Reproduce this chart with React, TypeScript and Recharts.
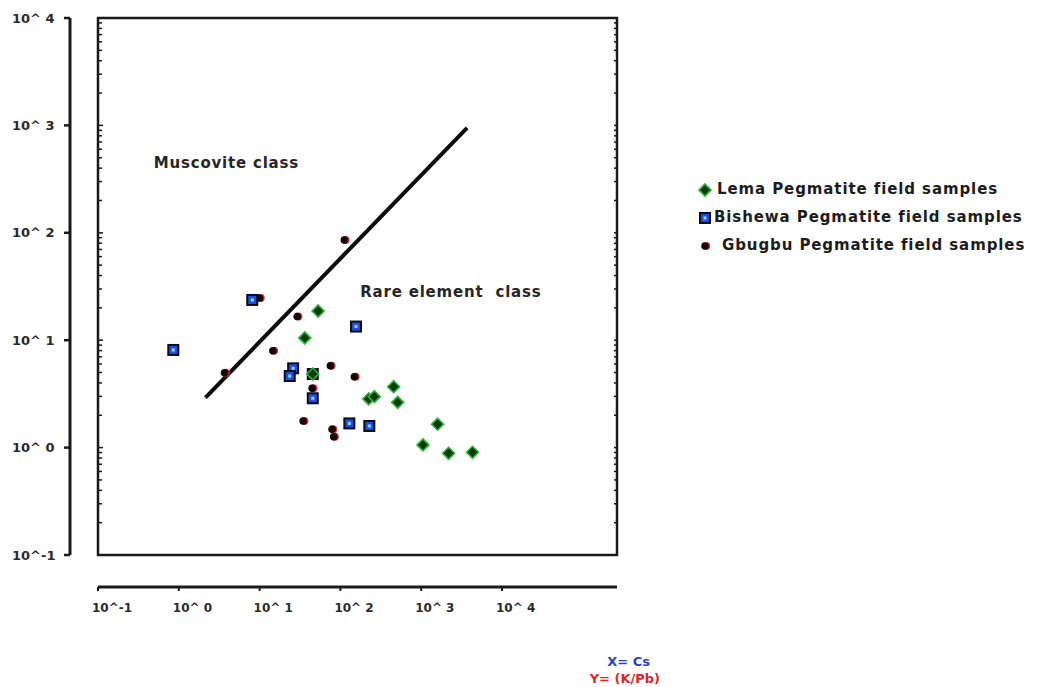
import React from 'react';
import {
  ScatterChart,
  Scatter,
  XAxis,
  YAxis,
  ReferenceArea,
  ReferenceLine,
  ReferenceDot,
  Legend,
} from 'recharts';

// ---------------- data ----------------
const lemaX = [53.0, 36.2, 45.5, 224, 263, 456, 511, 1596, 1052, 2183, 4315];
const lemaY = [18.7, 10.5, 4.84, 2.84, 2.98, 3.69, 2.64, 1.65, 1.06, 0.885, 0.904];

const bishewaX = [8.11, 156, 0.855, 26.0, 23.6, 45.5, 45.5, 129, 228];
const bishewaY = [23.7, 13.4, 8.11, 5.47, 4.64, 4.84, 2.88, 1.68, 1.59];

const gbugbuX = [9.98, 29.2, 14.6, 3.68, 75.2, 149, 44.7, 34.6, 78.9, 82.6, 112];
const gbugbuY = [24.7, 16.6, 7.98, 4.98, 5.79, 4.57, 3.56, 1.77, 1.48, 1.26, 85.7];

// boundary between Muscovite class and Rare element class
const boundaryX = [2.14, 3700];
const boundaryY = [2.92, 950];

const decadeTicks = [0.1, 1, 10, 100, 1000, 10000];
const minorMultipliers = [2, 3, 4, 5, 6, 7, 8, 9];

const seriesNames = [
  'Lema Pegmatite field samples',
  'Bishewa Pegmatite field samples',
  'Gbugbu Pegmatite field samples',
];

const regionLabels = ['Muscovite class', 'Rare element  class'];
const regionLabelX = [0.49, 176];
const regionLabelY = [446, 28.1];

const axisNames = ['X= Cs', 'Y= (K/Pb)'];

// ---------------- layout ----------------
const W = 1042;
const H = 687;
const PAD_W = 28;
const Y_AXIS_W = 70;
const PAD_H = 32;
const X_AXIS_H = 40;
const MARGIN = { top: 18, right: 425, bottom: 60, left: 0 };
const PLOT_W = W - MARGIN.left - MARGIN.right - PAD_W - Y_AXIS_W;

const X_DOMAIN: [number, number] = [0.1, 265000];
const Y_DOMAIN: [number, number] = [0.1, 10000];

const FONT = '"DejaVu Sans", Verdana, sans-serif';

const toPoints = (xs: number[], ys: number[]) => xs.map((x, i) => ({ x, y: ys[i] }));
const lemaData = toPoints(lemaX, lemaY);
const bishewaData = toPoints(bishewaX, bishewaY);
const gbugbuData = toPoints(gbugbuX, gbugbuY);

const yTicks: number[] = [];
decadeTicks.forEach((d, i) => {
  yTicks.push(d);
  if (i < decadeTicks.length - 1) minorMultipliers.forEach((m) => yTicks.push(d * m));
});

const isDecade = (v: number) => decadeTicks.some((d) => Math.abs(d - v) < 1e-9);
const fmt = (v: number) => {
  const e = Math.round(Math.log10(v));
  return e < 0 ? `10^${e}` : `10^ ${e}`;
};

// ---------------- shapes ----------------
const LemaShape = (p: any) => {
  const { cx, cy } = p;
  if (cx == null || cy == null) return null;
  const s = 6;
  return (
    <polygon
      points={`${cx},${cy - s} ${cx + s},${cy} ${cx},${cy + s} ${cx - s},${cy}`}
      fill="#0e3a10"
      stroke="#2bb533"
      strokeWidth={1.6}
    />
  );
};

const BishewaShape = (p: any) => {
  const { cx, cy } = p;
  if (cx == null || cy == null) return null;
  return (
    <g>
      <rect x={cx - 5} y={cy - 5} width={10} height={10} fill="#1f4fe0" stroke="#0b0b18" strokeWidth={2} />
      <rect x={cx - 1.5} y={cy - 1.5} width={3} height={3} fill="#86dcff" />
    </g>
  );
};

const GbugbuShape = (p: any) => {
  const { cx, cy } = p;
  if (cx == null || cy == null) return null;
  return (
    <g>
      <circle cx={cx + 1.2} cy={cy} r={4} fill="#d83030" />
      <circle cx={cx} cy={cy} r={3.8} fill="#140404" />
    </g>
  );
};

// ---------------- ticks ----------------
const YTick = (p: any) => {
  const { x, y, payload } = p;
  const v = payload.value;
  const dec = isDecade(v);
  const boxLeft = x + PAD_W;
  const boxRight = boxLeft + PLOT_W;
  return (
    <g>
      {dec && <line x1={x - 6} x2={x} y1={y} y2={y} stroke="#1a1a1a" strokeWidth={2.5} />}
      {dec && (
        <text x={x - 58} y={y} dy="0.35em" textAnchor="start" fontFamily={FONT} fontWeight="bold" fontSize={13} fill="#2a2a2a">
          {fmt(v)}
        </text>
      )}
      <line x1={boxLeft} x2={boxLeft + (dec ? 5 : 4)} y1={y} y2={y} stroke="#1a1a1a" strokeWidth={1.5} />
      <line x1={boxRight - 3} x2={boxRight} y1={y} y2={y} stroke="#1a1a1a" strokeWidth={1.5} />
    </g>
  );
};

const XTick = (p: any) => {
  const { x, y, payload } = p;
  return (
    <text x={x - 6} y={y + 21} textAnchor="start" fontFamily={FONT} fontWeight="bold" fontSize={12} fill="#2a2a2a">
      {fmt(payload.value)}
    </text>
  );
};

const AxisNames = () => (
  <g fontFamily={FONT} fontWeight="bold" fontSize={13}>
    <text x={650} y={666} textAnchor="end" fill="#2a3fd0">
      {axisNames[0]}
    </text>
    <text x={660} y={683} textAnchor="end" fill="#e02424">
      {axisNames[1]}
    </text>
  </g>
);

const RegionText = (text: string) => (p: any) => {
  const vb = p.viewBox || {};
  return (
    <text
      x={vb.x}
      y={vb.y}
      dy="0.35em"
      textAnchor="start"
      fontFamily={FONT}
      fontWeight="bold"
      fontSize={15}
      letterSpacing={0.8}
      fill="#262626"
      style={{ whiteSpace: 'pre' }}
      xmlSpace="preserve"
    >
      {text}
    </text>
  );
};

const legendMarkers = [
  (cx: number, cy: number) => <LemaShape cx={cx} cy={cy} />,
  (cx: number, cy: number) => <BishewaShape cx={cx} cy={cy} />,
  (cx: number, cy: number) => <GbugbuShape cx={cx} cy={cy} />,
];
const legendTextIndent = [27, 24, 32];

const LegendBox = () => (
  <div style={{ position: 'relative', width: 350, height: 90, fontFamily: FONT }}>
    {seriesNames.map((name, i) => (
      <div key={name} style={{ position: 'absolute', left: 0, top: i * 28, height: 28, width: 350 }}>
        <svg width={22} height={28} style={{ position: 'absolute', left: 4, top: 0 }}>
          {legendMarkers[i](11, 14)}
        </svg>
        <span
          style={{
            position: 'absolute',
            left: legendTextIndent[i],
            top: 4,
            fontWeight: 'bold',
            fontSize: 15,
            letterSpacing: 0.9,
            color: '#1c1c1c',
            whiteSpace: 'nowrap',
          }}
        >
          {name}
        </span>
      </div>
    ))}
  </div>
);

export default function App() {
  return (
    <div style={{ position: 'absolute', left: 0, top: 0, width: W, height: H, background: '#fff' }}>
      <ScatterChart width={W} height={H} margin={MARGIN}>
        <XAxis
          xAxisId="main"
          type="number"
          dataKey="x"
          scale="log"
          domain={X_DOMAIN}
          allowDataOverflow
          ticks={decadeTicks}
          interval={0}
          height={X_AXIS_H}
          tickSize={4}
          tickMargin={0}
          tick={<XTick />}
          axisLine={{ stroke: '#1a1a1a', strokeWidth: 3 }}
          tickLine={{ stroke: '#1a1a1a', strokeWidth: 2 }}
        />
        <XAxis xAxisId="apad" type="number" dataKey="x" height={PAD_H} tick={false} axisLine={false} tickLine={false} domain={X_DOMAIN} scale="log" allowDataOverflow />
        <YAxis
          yAxisId="main"
          type="number"
          dataKey="y"
          scale="log"
          domain={Y_DOMAIN}
          allowDataOverflow
          ticks={yTicks}
          interval={0}
          width={Y_AXIS_W}
          tickSize={0}
          tickMargin={0}
          tickLine={false}
          tick={<YTick />}
          axisLine={{ stroke: '#1a1a1a', strokeWidth: 3 }}
        />
        <YAxis yAxisId="apad" type="number" dataKey="y" width={PAD_W} tick={false} axisLine={false} tickLine={false} domain={Y_DOMAIN} scale="log" allowDataOverflow />
        <ReferenceArea
          xAxisId="main"
          yAxisId="main"
          x1={X_DOMAIN[0]}
          x2={X_DOMAIN[1]}
          y1={Y_DOMAIN[0]}
          y2={Y_DOMAIN[1]}
          fill="none"
          fillOpacity={0}
          stroke="#1a1a1a"
          strokeWidth={2.5}
        />
        <ReferenceLine
          xAxisId="main"
          yAxisId="main"
          segment={[
            { x: boundaryX[0], y: boundaryY[0] },
            { x: boundaryX[1], y: boundaryY[1] },
          ]}
          stroke="#0d0d0d"
          strokeWidth={4}
        />
        {regionLabels.map((t, i) => (
          <ReferenceDot
            key={t}
            xAxisId="main"
            yAxisId="main"
            x={regionLabelX[i]}
            y={regionLabelY[i]}
            r={0}
            fill="none"
            stroke="none"
            label={RegionText(t)}
          />
        ))}
        <Scatter name={seriesNames[2]} data={gbugbuData} xAxisId="main" yAxisId="main" shape={GbugbuShape} isAnimationActive={false} />
        <Scatter name={seriesNames[1]} data={bishewaData} xAxisId="main" yAxisId="main" shape={BishewaShape} isAnimationActive={false} />
        <Scatter name={seriesNames[0]} data={lemaData} xAxisId="main" yAxisId="main" shape={LemaShape} isAnimationActive={false} />
        <Legend
          layout="vertical"
          align="center"
          verticalAlign="middle"
          content={() => <LegendBox />}
          wrapperStyle={{ left: 690, top: 176, width: 350 }}
        />
        <AxisNames />
      </ScatterChart>
    </div>
  );
}
